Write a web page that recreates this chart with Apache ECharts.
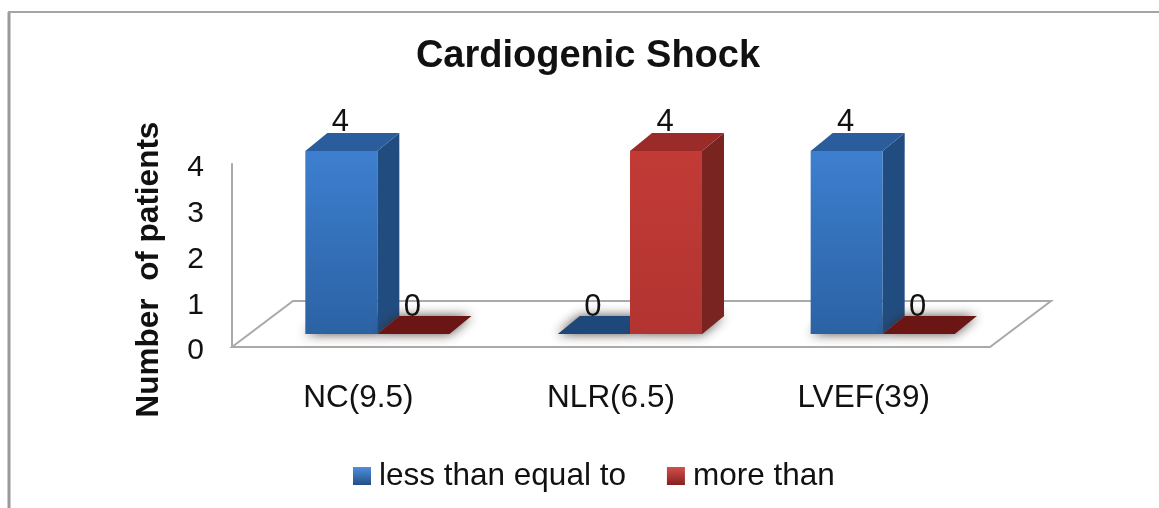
<!DOCTYPE html>
<html><head><meta charset="utf-8">
<style>html,body{margin:0;padding:0;background:#fff}#c{width:1159px;height:508px}</style>
<script src="https://cdn.jsdelivr.net/npm/echarts@6/dist/echarts.min.js"></script>
</head><body><div id="c"></div>
<script>
const categories = ['NC(9.5)', 'NLR(6.5)', 'LVEF(39)'];
const lessThanEqualTo = [4, 0, 4];
const moreThan = [0, 4, 0];
const seriesNames = ['less than equal to', 'more than'];
const yTicks = [0, 1, 2, 3, 4];

const FONT = '"Liberation Sans", Arial, sans-serif';
const TXT = '#111';
const palette = [
  {front: ['#3d7fcf', '#2b62a4'], side: '#214c80', top: '#2b5c9b', flat: '#1e477a', legend: ['#4f8fdc', '#234f86']},
  {front: ['#c23b36', '#b23431'], side: '#7a2422', top: '#9a2b28', flat: '#6b1515', legend: ['#d2504b', '#86201e']}
];
const BAR_RATIO = 0.285, SHIFT = 19, LIFT = 13, DX = 22, DY = 18;

function poly(pts, fill, extra) {
  return Object.assign({type: 'polygon', shape: {points: pts}, style: Object.assign({fill: fill}, extra || {})});
}
function barRenderer(s) {
  return function (params, api) {
    const p = palette[s];
    const base = api.coord([params.dataIndex, 0]);
    const tip = api.coord([params.dataIndex, api.value(1)]);
    const w = api.size([1, 0])[0] * BAR_RATIO;
    const x0 = base[0] + SHIFT + (s - 1) * w, x1 = x0 + w;
    const yb = base[1] - LIFT, yt = tip[1] - LIFT;
    const foot = [[x0, yb], [x1, yb], [x1 + DX, yb - DY], [x0 + DX, yb - DY]];
    const kids = [poly(foot, '#777', {shadowBlur: 12, shadowColor: 'rgba(50,40,35,0.85)'})];
    if (yb - yt < 0.5) {
      kids.push(poly(foot, p.flat));
    } else {
      kids.push(poly([[x1, yb], [x1 + DX, yb - DY], [x1 + DX, yt - DY], [x1, yt]], p.side));
      kids.push(poly([[x0, yt], [x1, yt], [x1 + DX, yt - DY], [x0 + DX, yt - DY]], p.top));
      kids.push({type: 'rect', shape: {x: x0, y: yt, width: w, height: yb - yt},
        style: {fill: new echarts.graphic.LinearGradient(0, 0, 0, 1, [
          {offset: 0, color: p.front[0]}, {offset: 1, color: p.front[1]}])}});
    }
    kids.push({type: 'text', z2: 10, style: {text: String(api.value(1)), x: x0 + w / 2 - 1, y: yt - DY + (yb - yt < 0.5 ? 7 : 5),
      align: 'center', verticalAlign: 'bottom', font: '31px ' + FONT, fill: TXT}});
    return {type: 'group', children: kids};
  };
}
function floorRenderer(params) {
  const g = params.coordSys;
  const yf = g.y + g.height, xl = g.x, xr = g.x + g.width, dx = 61, dy = 46;
  return {type: 'polygon', silent: true,
    shape: {points: [[xl, yf], [xl + dx, yf - dy], [xr + dx, yf - dy], [xr, yf]]},
    style: {fill: '#fff', stroke: '#a9a9a9', lineWidth: 2}};
}
function legendColor(p) {
  return new echarts.graphic.LinearGradient(0, 0, 0, 1, [
    {offset: 0, color: p.legend[0]}, {offset: 1, color: p.legend[1]}]);
}

const chart = echarts.init(document.getElementById('c'), null, {renderer: 'canvas'});
chart.setOption({
  animation: false,
  backgroundColor: '#fff',
  title: {text: 'Cardiogenic Shock', left: 583, top: 33, textAlign: 'center',
    textStyle: {fontFamily: FONT, fontWeight: 'bold', fontSize: 38, color: TXT}},
  grid: {left: 232, right: 169, top: 164, bottom: 161},
  legend: {top: 455, left: 348, itemGap: 41, itemWidth: 18, itemHeight: 18, icon: 'rect',
    data: seriesNames,
    textStyle: {fontFamily: FONT, fontSize: 31.5, color: TXT, padding: [0, 0, 0, 3]}},
  xAxis: {type: 'category', data: categories,
    axisLine: {show: false}, axisTick: {show: false},
    axisLabel: {margin: 35, fontFamily: FONT, fontSize: 31.5, color: TXT}},
  yAxis: {type: 'value', min: yTicks[0], max: yTicks[yTicks.length - 1], interval: 1,
    name: 'Number  of patients', nameLocation: 'middle', nameGap: 67,
    nameTextStyle: {fontFamily: FONT, fontWeight: 'bold', fontSize: 31.5, color: TXT, padding: [0, 28, 0, 0]},
    splitLine: {show: false}, axisTick: {show: false},
    axisLine: {show: true, lineStyle: {color: '#a9a9a9', width: 2}},
    axisLabel: {margin: 28, fontFamily: FONT, fontSize: 30, color: TXT, verticalAlign: 'top', lineHeight: 8}},
  series: [
    {type: 'custom', name: 'floor', z: 1, silent: true, clip: false, data: [[0, 0]], renderItem: floorRenderer,
     encode: {x: 0, y: 1}},
    {type: 'custom', name: seriesNames[0], z: 2, clip: false, itemStyle: {color: legendColor(palette[0])},
     data: lessThanEqualTo.map((v, i) => [categories[i], v]), encode: {x: 0, y: 1}, renderItem: barRenderer(0)},
    {type: 'custom', name: seriesNames[1], z: 3, clip: false, itemStyle: {color: legendColor(palette[1])},
     data: moreThan.map((v, i) => [categories[i], v]), encode: {x: 0, y: 1}, renderItem: barRenderer(1)}
  ],
  graphic: [
    {type: 'line', silent: true, shape: {x1: 9, y1: 12, x2: 9, y2: 508}, style: {stroke: '#9a9a9a', lineWidth: 3}},
    {type: 'line', silent: true, shape: {x1: 8, y1: 12, x2: 1159, y2: 12}, style: {stroke: '#a5a5a5', lineWidth: 2}}
  ]
});
</script></body></html>
